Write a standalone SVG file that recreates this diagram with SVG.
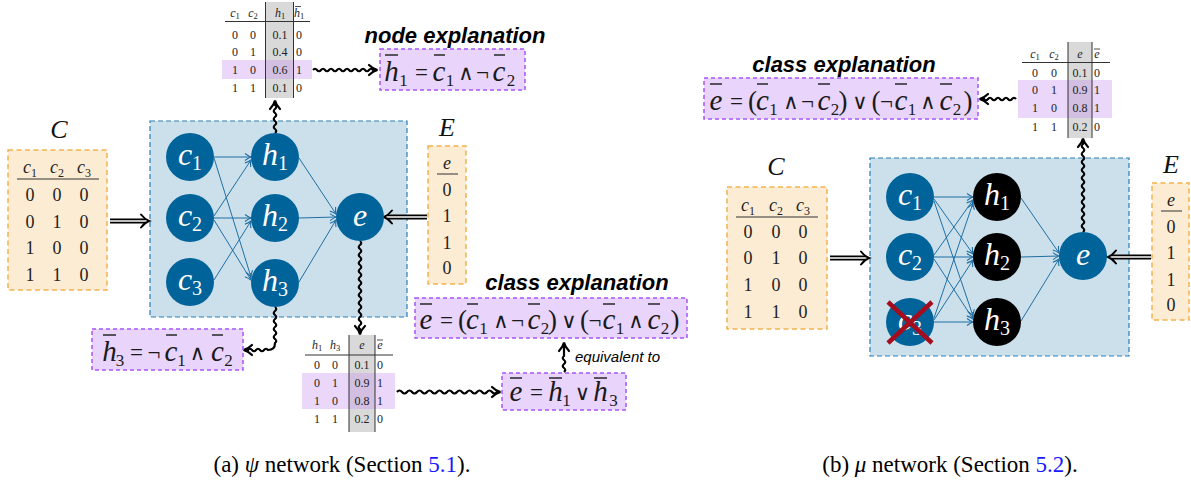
<svg xmlns="http://www.w3.org/2000/svg" width="1191" height="484" viewBox="0 0 1191 484">
<defs>
<style>
.ob{fill:#fdecd4;stroke:#f2b24e;stroke-width:1.5;stroke-dasharray:5 3.5}
.pb{fill:#e9d4fc;stroke:#a855f7;stroke-width:1.5;stroke-dasharray:4 3}
.bb{fill:#cce0ec;stroke:#2a7db6;stroke-width:1.2;stroke-dasharray:5 3}
.n{fill:#00639a}
.k{fill:#000}
.nt{font-family:"Liberation Serif",serif;font-style:italic;font-size:32px;fill:#fff;text-anchor:middle}
.ns{font-style:normal;font-size:20px}
.e{stroke:#1f6fa3;stroke-width:1;fill:none;marker-end:url(#ba)}
.w{stroke:#000;stroke-width:2.2;fill:none;marker-end:url(#wa)}
.tb{font-family:"Liberation Serif",serif;font-size:18px;fill:#222;text-anchor:middle}
.ti{font-style:italic}
.tsub{font-style:normal;font-size:12px}
.st{font-family:"Liberation Serif",serif;font-size:12px;fill:#222;text-anchor:middle}
.ssub{font-style:normal;font-size:8.5px}
.big{font-family:"Liberation Serif",serif;font-style:italic;font-size:26px;fill:#111;text-anchor:middle}
.mv{font-family:"Liberation Serif",serif;font-style:italic;font-size:29px;text-anchor:middle;fill:#1a1a1a}
.mo{font-family:"Liberation Serif","DejaVu Serif",serif;font-size:23px;text-anchor:middle;fill:#1a1a1a}
.ma{font-family:"DejaVu Serif",serif;font-size:21px;text-anchor:middle;fill:#1a1a1a}
.mp{font-family:"Liberation Serif",serif;font-size:27px;text-anchor:middle;fill:#1a1a1a}
.ms{font-family:"Liberation Serif",serif;font-size:17px;text-anchor:middle;fill:#1a1a1a}
.ol{stroke:#1a1a1a;stroke-width:1.4}
.sol{stroke:#222;stroke-width:0.8}
.lbl{font-family:"Liberation Sans",sans-serif;font-weight:bold;font-style:italic;font-size:22px;text-anchor:middle;fill:#000}
.eq{font-family:"Liberation Sans",sans-serif;font-style:italic;font-size:15px;fill:#000}
.cap{font-family:"Liberation Serif",serif;font-size:23px;fill:#000;text-anchor:middle}
.rule{stroke:#333;stroke-width:1}
.gray{fill:#d9d9d9}
.hl{fill:#c896f0;fill-opacity:0.38}
.dbo{stroke:#000;stroke-width:5;fill:none}
.dbi{stroke:#fff;stroke-width:1.4;fill:none}
.dbh{stroke:#000;stroke-width:2;fill:none;stroke-linecap:round}
</style>
<marker id="ba" viewBox="-8 -5 10 10" refX="0" refY="0" markerWidth="10" markerHeight="10" markerUnits="userSpaceOnUse" orient="auto">
<path d="M-6,-3.5 Q-2.5,-0.8 0,0 Q-2.5,0.8 -6,3.5" fill="none" stroke="#1f6fa3" stroke-width="1.1"/>
</marker>
<marker id="wa" viewBox="-10 -7 13 14" refX="0" refY="0" markerWidth="13" markerHeight="14" markerUnits="userSpaceOnUse" orient="auto">
<path d="M-7,-5 Q-3,-1 1.5,0 Q-3,1 -7,5" fill="none" stroke="#000" stroke-width="2.2" stroke-linecap="round"/>
</marker>
</defs>
<rect width="1191" height="484" fill="#fff"/>

<!-- ===== Panel (a) ===== -->
<g id="net-a">
<rect class="bb" x="150" y="121" width="257" height="196"/>
</g>

<g id="connectors-a">
<path class="e" d="M214,157 L251,157"/>
<path class="e" d="M214,158 L251,277"/>
<path class="e" d="M214,216 L251,160"/>
<path class="e" d="M214,218 L251,218"/>
<path class="e" d="M214,220 L251,280"/>
<path class="e" d="M214,280 L251,221"/>
<path class="e" d="M299,158 L336,214"/>
<path class="e" d="M299,218 L336,217"/>
<path class="e" d="M299,282 L336,220"/>
<path class="dbo" d="M110,221 H146"/><path class="dbi" d="M110,221 H146"/>
<path class="dbh" d="M141,214.5 Q145,219.5 149,221 Q145,222.5 141,227.5"/>
<path class="dbo" d="M427,217 H387"/><path class="dbi" d="M427,217 H387"/>
<path class="dbh" d="M392,210.5 Q388,215.5 384,217 Q388,218.5 392,223.5"/>
<path class="w" d="M275,133 q2.5,-2 0,-4 t0,-4 t0,-4 t0,-4 t0,-4 t0,-4 t0,-4 l0,-3"/>
<path class="w" d="M313,70 q2,-2.5 4,0 t4,0 t4,0 t4,0 t4,0 t4,0 t4,0 t4,0 t4,0 t4,0 t4,0 t4,0 t4,0 t4,0 t4,0 l3,0"/>
<path class="w" d="M275,307 q2.5,2 0,4 t0,4 t0,4 t0,4 t0,4 t0,4 t0,4 t0,4 t0,4 Q275,350 268,350 q-2,-2.5 -4,0 t-4,0 t-4,0 t-4,0 t-4,0 l-3,0"/>
<path class="w" d="M360,241 q2.5,2 0,4 t0,4 t0,4 t0,4 t0,4 t0,4 t0,4 t0,4 t0,4 t0,4 t0,4 t0,4 t0,4 t0,4 t0,4 t0,4 t0,4 t0,4 t0,4 t0,4 t0,4 t0,4 l0,4"/>
<path class="w" d="M397,392 q2.5,-3 5,0 t5,0 t5,0 t5,0 t5,0 t5,0 t5,0 t5,0 t5,0 t5,0 t5,0 t5,0 t5,0 t5,0 t5,0 t5,0 t5,0 t5,0 t5,0 t5,0 l2,0"/>
<path class="w" d="M564,372 q2.5,-2 0,-4 t0,-4 t0,-4 t0,-4 l0,-12"/>
</g>

<g id="node-c1-a"><circle class="n" cx="190" cy="157" r="24"/><text class="nt" x="190" y="165">c<tspan class="ns" dy="5">1</tspan></text></g>
<g id="node-c2-a"><circle class="n" cx="190" cy="218" r="24"/><text class="nt" x="190" y="226">c<tspan class="ns" dy="5">2</tspan></text></g>
<g id="node-c3-a"><circle class="n" cx="190" cy="282" r="24"/><text class="nt" x="190" y="290">c<tspan class="ns" dy="5">3</tspan></text></g>
<g id="node-h1-a"><circle class="n" cx="275" cy="157" r="24"/><text class="nt" x="275" y="165">h<tspan class="ns" dy="5">1</tspan></text></g>
<g id="node-h2-a"><circle class="n" cx="275" cy="218" r="24"/><text class="nt" x="275" y="226">h<tspan class="ns" dy="5">2</tspan></text></g>
<g id="node-h3-a"><circle class="n" cx="275" cy="283" r="24"/><text class="nt" x="275" y="291">h<tspan class="ns" dy="5">3</tspan></text></g>
<g id="node-e-a"><circle class="n" cx="360" cy="217" r="24"/><text class="nt" x="360" y="226">e</text></g>

<g id="table-C-a">
<text class="big" x="59" y="138">C</text>
<rect class="ob" x="8" y="150" width="99" height="140"/>
<text class="tb ti" x="30" y="173">c<tspan class="tsub" dy="4">1</tspan></text>
<text class="tb ti" x="57" y="173">c<tspan class="tsub" dy="4">2</tspan></text>
<text class="tb ti" x="84" y="173">c<tspan class="tsub" dy="4">3</tspan></text>
<line class="rule" x1="17" y1="179" x2="99" y2="179" stroke-width="1.3"/>
<text class="tb" x="30 57 84" y="201">000</text>
<text class="tb" x="30 57 84" y="228">010</text>
<text class="tb" x="30 57 84" y="254">100</text>
<text class="tb" x="30 57 84" y="281">110</text>
</g>

<g id="table-E-a">
<text class="big" x="447" y="136">E</text>
<rect class="ob" x="428" y="146" width="38" height="138"/>
<text class="tb ti" x="447" y="169">e</text>
<line class="rule" x1="437" y1="174" x2="458" y2="174" stroke-width="1.3"/>
<text class="tb" x="447" y="196">0</text>
<text class="tb" x="447" y="222">1</text>
<text class="tb" x="447" y="249">1</text>
<text class="tb" x="447" y="274">0</text>
</g>

<g id="table-h1-a">
<rect class="gray" x="266" y="2" width="27" height="96"/>
<rect class="hl" x="222" y="60" width="90" height="19"/>
<line class="rule" x1="265.5" y1="2" x2="265.5" y2="98"/>
<line class="rule" x1="293.5" y1="2" x2="293.5" y2="98"/>
<line class="rule" x1="225" y1="21.5" x2="310" y2="21.5"/>
<text class="st ti" x="235" y="17">c<tspan class="ssub" dy="2">1</tspan></text>
<text class="st ti" x="253" y="17">c<tspan class="ssub" dy="2">2</tspan></text>
<text class="st ti" x="280" y="17">h<tspan class="ssub" dy="2">1</tspan></text>
<text class="st ti" x="299" y="17">h<tspan class="ssub" dy="2">1</tspan></text>
<line class="sol" x1="295" y1="6.5" x2="301" y2="6.5"/>
<text class="st" y="39"><tspan x="235">0</tspan><tspan x="253">0</tspan><tspan x="280">0.1</tspan><tspan x="299">0</tspan></text>
<text class="st" y="56"><tspan x="235">0</tspan><tspan x="253">1</tspan><tspan x="280">0.4</tspan><tspan x="299">0</tspan></text>
<text class="st" y="74"><tspan x="235">1</tspan><tspan x="253">0</tspan><tspan x="280">0.6</tspan><tspan x="299">1</tspan></text>
<text class="st" y="92"><tspan x="235">1</tspan><tspan x="253">1</tspan><tspan x="280">0.1</tspan><tspan x="299">0</tspan></text>
</g>

<g id="table-e-a">
<rect class="gray" x="349" y="335" width="26" height="97"/>
<rect class="hl" x="302" y="373" width="93" height="36"/>
<line class="rule" x1="349" y1="335" x2="349" y2="432"/>
<line class="rule" x1="375" y1="335" x2="375" y2="432"/>
<line class="rule" x1="305" y1="355" x2="393" y2="355"/>
<text class="st ti" x="317" y="349">h<tspan class="ssub" dy="2">1</tspan></text>
<text class="st ti" x="335" y="349">h<tspan class="ssub" dy="2">3</tspan></text>
<text class="st ti" x="362" y="349">e</text>
<text class="st ti" x="380" y="349">e</text>
<line class="sol" x1="377" y1="340" x2="383" y2="340"/>
<text class="st" y="369"><tspan x="317">0</tspan><tspan x="335">0</tspan><tspan x="362">0.1</tspan><tspan x="380">0</tspan></text>
<text class="st" y="387"><tspan x="317">0</tspan><tspan x="335">1</tspan><tspan x="362">0.9</tspan><tspan x="380">1</tspan></text>
<text class="st" y="405"><tspan x="317">1</tspan><tspan x="335">0</tspan><tspan x="362">0.8</tspan><tspan x="380">1</tspan></text>
<text class="st" y="423"><tspan x="317">1</tspan><tspan x="335">1</tspan><tspan x="362">0.2</tspan><tspan x="380">0</tspan></text>
</g>

<g id="expl-node">
<text class="lbl" x="455" y="43">node explanation</text>
<rect class="pb" x="380" y="49" width="145" height="41"/>
<text class="mv" x="391.5" y="81">h</text><line class="ol" x1="385" y1="55" x2="398" y2="55"/>
<text class="ms" x="403.5" y="86">1</text>
<text class="mo" x="421.5" y="80">=</text>
<text class="mv" x="439" y="81">c</text><line class="ol" x1="434" y1="55" x2="445" y2="55"/>
<text class="ms" x="450" y="86">1</text>
<text class="ma" x="466" y="80">∧</text>
<text class="mo" x="482.5" y="80">¬</text>
<text class="mv" x="499" y="81">c</text><line class="ol" x1="494" y1="55" x2="505" y2="55"/>
<text class="ms" x="511" y="86">2</text>
</g>

<g id="expl-h3">
<rect class="pb" x="92" y="329" width="151" height="41"/>
<text class="mv" x="109.5" y="361">h</text><line class="ol" x1="103" y1="335" x2="116" y2="335"/>
<text class="ms" x="120" y="366">3</text>
<text class="mo" x="136.5" y="360">=</text>
<text class="mo" x="154" y="360">¬</text>
<text class="mv" x="171" y="361">c</text><line class="ol" x1="166" y1="335" x2="177" y2="335"/>
<text class="ms" x="181.5" y="366">1</text>
<text class="ma" x="197.5" y="360">∧</text>
<text class="mv" x="217.5" y="361">c</text><line class="ol" x1="212" y1="335" x2="223" y2="335"/>
<text class="ms" x="228.5" y="366">2</text>
</g>

<g id="expl-class-a">
<text class="lbl" x="577" y="290">class explanation</text>
<rect class="pb" x="415" y="298" width="272" height="40"/>
<text class="mv" x="426" y="329">e</text><line class="ol" x1="420" y1="304" x2="432" y2="304"/>
<text class="mo" x="446.5" y="328">=</text>
<text class="mp" x="462.5" y="329">(</text>
<text class="mv" x="472.5" y="329">c</text><line class="ol" x1="467" y1="304" x2="478" y2="304"/>
<text class="ms" x="483.5" y="334">1</text>
<text class="ma" x="501" y="328">∧</text>
<text class="mo" x="517.5" y="328">¬</text>
<text class="mv" x="534" y="329">c</text><line class="ol" x1="528" y1="304" x2="540" y2="304"/>
<text class="ms" x="545" y="334">2</text>
<text class="mp" x="552.5" y="329">)</text>
<text class="ma" x="569" y="328">∨</text>
<text class="mp" x="584.5" y="329">(</text>
<text class="mo" x="595" y="328">¬</text>
<text class="mv" x="609" y="329">c</text><line class="ol" x1="603" y1="304" x2="615" y2="304"/>
<text class="ms" x="620" y="334">1</text>
<text class="ma" x="636" y="328">∧</text>
<text class="mv" x="654" y="329">c</text><line class="ol" x1="648" y1="304" x2="660" y2="304"/>
<text class="ms" x="665" y="334">2</text>
<text class="mp" x="675" y="329">)</text>
</g>

<g id="equivalent-label">
<text class="eq" x="575" y="362">equivalent to</text>
</g>

<g id="expl-eh">
<rect class="pb" x="502" y="373" width="124" height="37"/>
<text class="mv" x="516" y="401">e</text><line class="ol" x1="510" y1="378" x2="522" y2="378"/>
<text class="mo" x="536.5" y="400">=</text>
<text class="mv" x="555.5" y="401">h</text><line class="ol" x1="549" y1="378" x2="562" y2="378"/>
<text class="ms" x="566.5" y="406">1</text>
<text class="ma" x="582.5" y="400">∨</text>
<text class="mv" x="600.5" y="401">h</text><line class="ol" x1="594" y1="378" x2="607" y2="378"/>
<text class="ms" x="613.5" y="406">3</text>
</g>

<!-- ===== Panel (b) ===== -->
<g id="net-b">
<rect class="bb" x="870" y="158" width="259" height="198"/>
</g>

<g id="connectors-b">
<path class="e" d="M934,197 L973,197"/>
<path class="e" d="M934,199 L973,254"/>
<path class="e" d="M934,201 L973,316"/>
<path class="e" d="M934,255 L973,200"/>
<path class="e" d="M934,257 L973,257"/>
<path class="e" d="M934,259 L973,319"/>
<path class="e" d="M934,318 L973,203"/>
<path class="e" d="M934,320 L973,260"/>
<path class="e" d="M934,322 L973,322"/>
<path class="e" d="M1021,198 L1059,253"/>
<path class="e" d="M1021,257 L1059,256"/>
<path class="e" d="M1021,321 L1059,259"/>
<path class="dbo" d="M830,258 H866"/><path class="dbi" d="M830,258 H866"/>
<path class="dbh" d="M861,251.5 Q865,256.5 869,258 Q865,259.5 861,264.5"/>
<path class="dbo" d="M1151,257 H1111"/><path class="dbi" d="M1151,257 H1111"/>
<path class="dbh" d="M1116,250.5 Q1112,255.5 1108,257 Q1112,258.5 1116,263.5"/>
<path class="w" d="M1083,232 q2.5,-2 0,-4 t0,-4 t0,-4 t0,-4 t0,-4 t0,-4 t0,-4 t0,-4 t0,-4 t0,-4 t0,-4 t0,-4 t0,-4 t0,-4 t0,-4 t0,-4 t0,-4 t0,-4 t0,-4 t0,-4 t0,-4 t0,-4 l0,-4"/>
<path class="w" d="M1016,99 q-2,-2.5 -4,0 t-4,0 t-4,0 t-4,0 t-4,0 t-4,0 t-4,0 t-4,0 l-3,0"/>
</g>

<g id="node-c1-b"><circle class="n" cx="910" cy="197" r="24"/><text class="nt" x="910" y="205">c<tspan class="ns" dy="5">1</tspan></text></g>
<g id="node-c2-b"><circle class="n" cx="910" cy="257" r="24"/><text class="nt" x="910" y="265">c<tspan class="ns" dy="5">2</tspan></text></g>
<g id="node-c3-b"><circle class="n" cx="910" cy="322" r="24"/><text class="nt" x="910" y="330">c<tspan class="ns" dy="5">3</tspan></text>
<path d="M888,302 L932,343 M932,302 L888,343" stroke="#a50d1e" stroke-width="4.5" fill="none"/></g>
<g id="node-h1-b"><circle class="k" cx="997" cy="197" r="24"/><text class="nt" x="997" y="205">h<tspan class="ns" dy="5">1</tspan></text></g>
<g id="node-h2-b"><circle class="k" cx="997" cy="257" r="24"/><text class="nt" x="997" y="265">h<tspan class="ns" dy="5">2</tspan></text></g>
<g id="node-h3-b"><circle class="k" cx="997" cy="322" r="24"/><text class="nt" x="997" y="330">h<tspan class="ns" dy="5">3</tspan></text></g>
<g id="node-e-b"><circle class="n" cx="1083" cy="256" r="24"/><text class="nt" x="1083" y="265">e</text></g>

<g id="table-C-b">
<text class="big" x="776" y="175">C</text>
<rect class="ob" x="727" y="187" width="100" height="142"/>
<text class="tb ti" x="748" y="211">c<tspan class="tsub" dy="4">1</tspan></text>
<text class="tb ti" x="776" y="211">c<tspan class="tsub" dy="4">2</tspan></text>
<text class="tb ti" x="803" y="211">c<tspan class="tsub" dy="4">3</tspan></text>
<line class="rule" x1="736" y1="217" x2="818" y2="217" stroke-width="1.3"/>
<text class="tb" x="748 776 803" y="238">000</text>
<text class="tb" x="748 776 803" y="264">010</text>
<text class="tb" x="748 776 803" y="291">100</text>
<text class="tb" x="748 776 803" y="318">110</text>
</g>

<g id="table-E-b">
<text class="big" x="1171" y="173">E</text>
<rect class="ob" x="1152" y="183" width="37" height="137"/>
<text class="tb ti" x="1171" y="206">e</text>
<line class="rule" x1="1161" y1="211" x2="1182" y2="211" stroke-width="1.3"/>
<text class="tb" x="1171" y="233">0</text>
<text class="tb" x="1171" y="259">1</text>
<text class="tb" x="1171" y="286">1</text>
<text class="tb" x="1171" y="311">0</text>
</g>

<g id="table-e-b">
<rect class="gray" x="1068" y="42" width="24" height="96"/>
<rect class="hl" x="1018" y="80" width="94" height="38"/>
<line class="rule" x1="1068" y1="42" x2="1068" y2="138"/>
<line class="rule" x1="1092" y1="42" x2="1092" y2="138"/>
<line class="rule" x1="1022" y1="62.5" x2="1110" y2="62.5"/>
<text class="st ti" x="1035" y="58">c<tspan class="ssub" dy="2">1</tspan></text>
<text class="st ti" x="1054" y="58">c<tspan class="ssub" dy="2">2</tspan></text>
<text class="st ti" x="1080" y="58">e</text>
<text class="st ti" x="1097" y="58">e</text>
<line class="sol" x1="1094" y1="49" x2="1100" y2="49"/>
<text class="st" y="77"><tspan x="1035">0</tspan><tspan x="1054">0</tspan><tspan x="1080">0.1</tspan><tspan x="1097">0</tspan></text>
<text class="st" y="94"><tspan x="1035">0</tspan><tspan x="1054">1</tspan><tspan x="1080">0.9</tspan><tspan x="1097">1</tspan></text>
<text class="st" y="112"><tspan x="1035">1</tspan><tspan x="1054">0</tspan><tspan x="1080">0.8</tspan><tspan x="1097">1</tspan></text>
<text class="st" y="131"><tspan x="1035">1</tspan><tspan x="1054">1</tspan><tspan x="1080">0.2</tspan><tspan x="1097">0</tspan></text>
</g>

<g id="expl-class-b">
<text class="lbl" x="844" y="72">class explanation</text>
<rect class="pb" x="704" y="78" width="274" height="41"/>
<text class="mv" x="716" y="110">e</text><line class="ol" x1="710" y1="84" x2="722" y2="84"/>
<text class="mo" x="736.5" y="109">=</text>
<text class="mp" x="752.5" y="110">(</text>
<text class="mv" x="762.5" y="110">c</text><line class="ol" x1="757" y1="84" x2="768" y2="84"/>
<text class="ms" x="773.5" y="115">1</text>
<text class="ma" x="791" y="109">∧</text>
<text class="mo" x="807.5" y="109">¬</text>
<text class="mv" x="824" y="110">c</text><line class="ol" x1="818" y1="84" x2="830" y2="84"/>
<text class="ms" x="835" y="115">2</text>
<text class="mp" x="843" y="110">)</text>
<text class="ma" x="860" y="109">∨</text>
<text class="mp" x="876" y="110">(</text>
<text class="mo" x="886.5" y="109">¬</text>
<text class="mv" x="901" y="110">c</text><line class="ol" x1="895" y1="84" x2="907" y2="84"/>
<text class="ms" x="912" y="115">1</text>
<text class="ma" x="928" y="109">∧</text>
<text class="mv" x="946" y="110">c</text><line class="ol" x1="940" y1="84" x2="952" y2="84"/>
<text class="ms" x="957" y="115">2</text>
<text class="mp" x="968" y="110">)</text>
</g>

<g id="captions">
<text class="cap" x="342" y="472">(a) <tspan font-style="italic">ψ</tspan> network (Section <tspan fill="#1a1aff">5.1</tspan>).</text>
<text class="cap" x="950" y="472">(b) <tspan font-style="italic">μ</tspan> network (Section <tspan fill="#1a1aff">5.2</tspan>).</text>
</g>
</svg>
